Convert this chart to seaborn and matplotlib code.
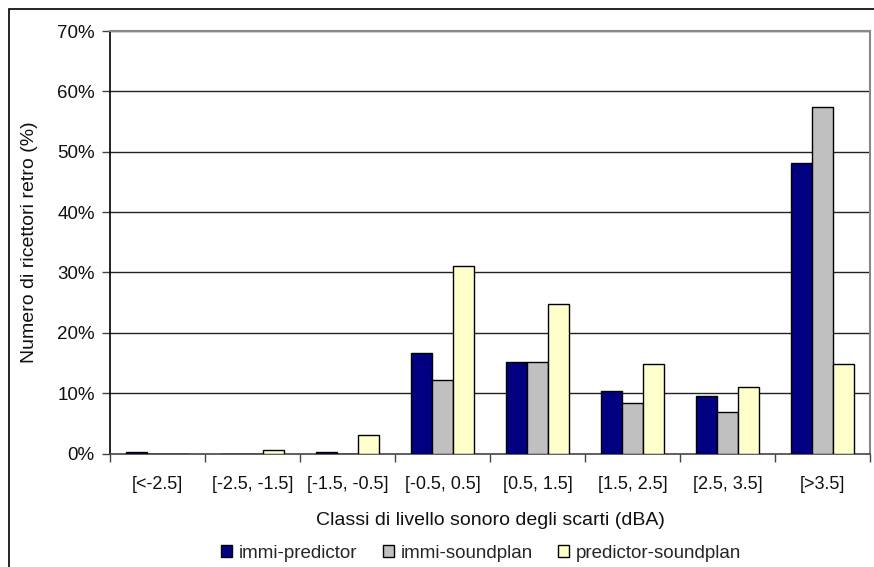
import matplotlib
matplotlib.use("Agg")
import matplotlib.pyplot as plt
from matplotlib.patches import Patch, Rectangle
from matplotlib.ticker import FuncFormatter, FixedLocator
import numpy as np
import pandas as pd
import seaborn as sns

# Classi di scarto (dBA) e percentuali di ricettori per ciascun confronto
classi = ["[<-2.5]", "[-2.5, -1.5]", "[-1.5, -0.5]", "[-0.5, 0.5]",
          "[0.5, 1.5]", "[1.5, 2.5]", "[2.5, 3.5]", "[>3.5]"]
immi_predictor = [0.3, 0.0, 0.3, 16.6, 15.1, 10.4, 9.5, 48.2]
immi_soundplan = [0.0, 0.0, 0.0, 12.2, 15.1, 8.4, 6.9, 57.4]
predictor_soundplan = [0.0, 0.5, 3.1, 31.0, 24.7, 14.8, 11.1, 14.8]
serie = ["immi-predictor", "immi-soundplan", "predictor-soundplan"]
colori = ["#000080", "#C0C0C0", "#FFFFCC"]
yticks = [0, 10, 20, 30, 40, 50, 60, 70]

df = pd.DataFrame({
    "classe": classi * 3,
    "valore": immi_predictor + immi_soundplan + predictor_soundplan,
    "serie": [s for s in serie for _ in classi],
})

sns.set_theme(style="white")
plt.rcParams["font.family"] = ["Liberation Sans", "DejaVu Sans"]

fig = plt.figure(figsize=(8.74, 5.67), dpi=100)
ax = fig.add_axes([110 / 874, 1 - 453.5 / 567, 760 / 874, 422.5 / 567])

# outer chart frame
fig.patches.append(Rectangle((9 / 874, -0.1), 1.2, 1 - 9 / 567 + 0.1,
                             transform=fig.transFigure, fill=False,
                             edgecolor="black", linewidth=1.2, zorder=0))

sns.barplot(data=df, x="classe", y="valore", hue="serie", order=classi,
            hue_order=serie, palette=colori, saturation=1, edgecolor="black",
            linewidth=1.0, width=0.66, gap=0, ax=ax, legend=False, zorder=3)

ax.set_ylim(0, 70)
ax.set_xlim(-0.5, len(classi) - 0.5)
ax.set_yticks(yticks)
ax.yaxis.set_major_formatter(FuncFormatter(lambda v, p: f"{v:.0f}%"))
for y in yticks[1:]:
    ax.axhline(y, color="#222222", linewidth=1.0, zorder=1)

ax.xaxis.set_minor_locator(FixedLocator(np.arange(-0.5, len(classi), 1.0)))
ax.tick_params(axis="x", which="major", length=0, pad=16, labelsize=13,
               colors="#111111")
ax.tick_params(axis="x", which="minor", length=6, width=1, color="#444444",
               direction="out", bottom=True)
ax.tick_params(axis="y", length=6, width=1, color="#444444", direction="out",
               left=True, labelsize=13.5, colors="#111111", pad=5)

for side in ["top", "right"]:
    ax.spines[side].set_color("#888888")
    ax.spines[side].set_linewidth(1.5)
ax.spines["left"].set_color("black")
ax.spines["left"].set_linewidth(1.2)
ax.spines["bottom"].set_color("#444444")
ax.spines["bottom"].set_linewidth(1.2)

ax.set_xlabel("Classi di livello sonoro degli scarti (dBA)", fontsize=14,
              labelpad=14, color="#111111")
ax.set_ylabel("Numero di ricettori retro (%)", fontsize=14, labelpad=14,
              color="#111111")

handles = [Patch(facecolor=c, edgecolor="black", linewidth=1.0) for c in colori]
fig.legend(handles, serie, loc="center", bbox_to_anchor=(481 / 874, 1 - 553 / 567),
           ncol=3, frameon=False, fontsize=13.5, handlelength=0.6,
           handleheight=0.6, handletextpad=0.35, columnspacing=1.35,
           borderpad=0)

fig.savefig("out.png", dpi=100)
